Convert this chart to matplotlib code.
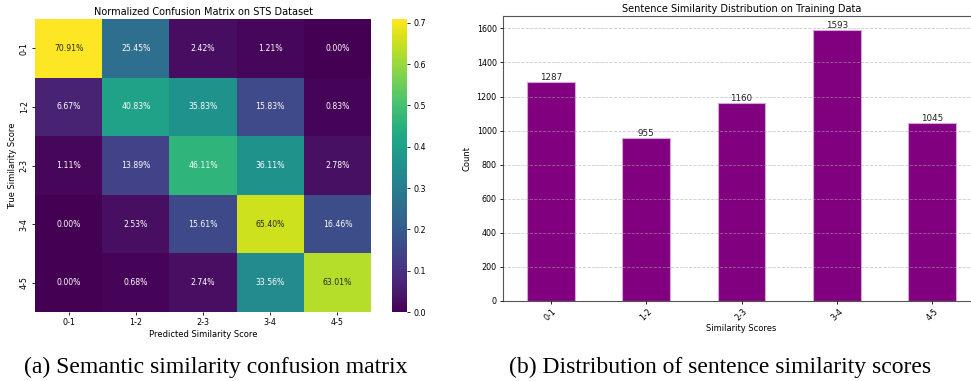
import matplotlib
matplotlib.use("Agg")
import matplotlib.pyplot as plt
import numpy as np
import seaborn as sns

labels = ["0-1", "1-2", "2-3", "3-4", "4-5"]
conf_pct = [
    [70.91, 25.45, 2.42, 1.21, 0.00],
    [6.67, 40.83, 35.83, 15.83, 0.83],
    [1.11, 13.89, 46.11, 36.11, 2.78],
    [0.00, 2.53, 15.61, 65.40, 16.46],
    [0.00, 0.68, 2.74, 33.56, 63.01],
]
counts = [1287, 955, 1160, 1593, 1045]

W, H = 971, 381
fig = plt.figure(figsize=(W / 100, H / 100), dpi=100)


def rel_lum(rgb):
    c = np.array(rgb[:3])
    c = np.where(c <= 0.03928, c / 12.92, ((c + 0.055) / 1.055) ** 2.4)
    return 0.2126 * c[0] + 0.7152 * c[1] + 0.0722 * c[2]


# left: heatmap + colorbar
ax1 = fig.add_axes([35 / W, 1 - 312 / H, 336 / W, 293 / H])
cax = fig.add_axes([392 / W, 1 - 312 / H, 15 / W, 293 / H])
conf = np.array(conf_pct) / 100.0
cmap = plt.get_cmap("viridis")
vmin, vmax = conf.min(), conf.max()
sns.heatmap(conf, ax=ax1, cbar_ax=cax, cmap=cmap, annot=False,
            xticklabels=labels, yticklabels=labels)
# dark text on bright cells, like seaborn's annot
for i in range(conf.shape[0]):
    for j in range(conf.shape[1]):
        col = cmap((conf[i, j] - vmin) / (vmax - vmin))
        ax1.text(j + 0.5, i + 0.5, f"{conf[i, j]:.2%}", ha="center", va="center",
                 fontsize=5.6, color="#262626" if rel_lum(col) > 0.408 else "white")
ax1.set_title("Normalized Confusion Matrix on STS Dataset", fontsize=7, pad=3)
ax1.set_xlabel("Predicted Similarity Score", fontsize=6, labelpad=2)
ax1.set_ylabel("True Similarity Score", fontsize=6, labelpad=2)
ax1.tick_params(labelsize=5.8, length=2.5, width=0.6, pad=2)
cax.tick_params(labelsize=5.8, length=2.5, width=0.6, pad=2)
cax.set_yticks([0.0, 0.1, 0.2, 0.3, 0.4, 0.5, 0.6, 0.7])

# right: bar chart
ax2 = fig.add_axes([503 / W, 1 - 301 / H, 477 / W, 285 / H])
x = np.arange(len(labels))
bars = ax2.bar(x, counts, width=0.5, color="#800080", edgecolor="#d9a6d9", linewidth=0.8, zorder=2)
ax2.set_xlim(-0.5, len(labels) - 0.5)
ax2.set_ylim(0, max(counts) * 1.05)
ax2.set_xticks(x)
ax2.set_xticklabels(labels, rotation=45)
ax2.set_yticks([0, 200, 400, 600, 800, 1000, 1200, 1400, 1600])
for b, c in zip(bars, counts):
    ax2.text(b.get_x() + b.get_width() / 2, c, str(c), ha="center", va="bottom", fontsize=6.3, color="#222222")
ax2.set_title("Sentence Similarity Distribution on Training Data", fontsize=7, pad=3)
ax2.set_xlabel("Similarity Scores", fontsize=6, labelpad=1)
ax2.set_ylabel("Count", fontsize=6, labelpad=4)
ax2.tick_params(labelsize=5.8, length=2.5, width=0.6, pad=2)
ax2.set_axisbelow(False)
ax2.yaxis.grid(True, linestyle="--", color="#aaaaaa", linewidth=0.6, alpha=0.6, zorder=3)
for s in ax2.spines.values():
    s.set_color("#555555")
    s.set_linewidth(0.8)

fig.text(216 / W, 1 - 367 / H, "(a) Semantic similarity confusion matrix",
         family="Liberation Serif", fontsize=17, ha="center", va="center")
fig.text(720 / W, 1 - 367 / H, "(b) Distribution of sentence similarity scores",
         family="Liberation Serif", fontsize=17, ha="center", va="center")

fig.savefig("out.png", dpi=100, facecolor="white")
